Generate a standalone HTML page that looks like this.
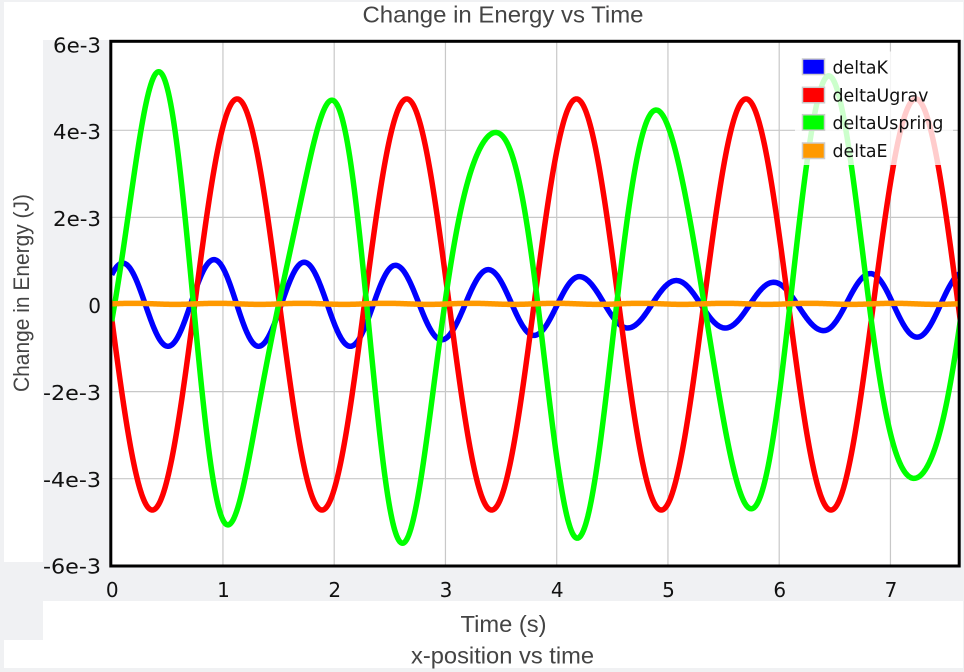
<!DOCTYPE html>
<html>
<head>
<meta charset="utf-8">
<style>
  html,body{margin:0;padding:0;background:#f0f1f3;}
  body{width:964px;height:672px;overflow:hidden;}
  svg{display:block;}
  .tick{font-family:"DejaVu Sans","Liberation Sans",sans-serif;font-size:20px;fill:#111;}
  .ttl{font-family:"Liberation Sans",Arial,sans-serif;fill:#444;}
  .leg{font-family:"DejaVu Sans","Liberation Sans",sans-serif;font-size:17.4px;fill:#111;}
</style>
</head>
<body>
<svg id="chart" width="964" height="672" viewBox="0 0 964 672" xmlns="http://www.w3.org/2000/svg">
  <defs>
    <clipPath id="plotclip"><rect x="110.8" y="41.3" width="848.4" height="524.7"/></clipPath>
  </defs>
  <!-- backgrounds -->
  <rect x="0" y="0" width="964" height="672" fill="#f0f1f3"/>
  <rect x="4" y="2" width="959" height="38" fill="#ffffff"/>
  <rect x="4" y="2" width="39" height="560" fill="#ffffff"/>
  <rect x="43" y="601" width="920" height="67" fill="#ffffff"/>
  <rect x="4" y="640" width="39" height="28" fill="#ffffff"/>

  <!-- titles -->
  <text class="ttl" x="503" y="22.7" font-size="23.5" text-anchor="middle" textLength="281" lengthAdjust="spacingAndGlyphs">Change in Energy vs Time</text>
  <text class="ttl" x="503.5" y="632" font-size="23.5" text-anchor="middle" textLength="86" lengthAdjust="spacingAndGlyphs">Time (s)</text>
  <text class="ttl" x="502.5" y="663.3" font-size="23.5" text-anchor="middle" textLength="183" lengthAdjust="spacingAndGlyphs">x-position vs time</text>
  <text class="ttl" transform="translate(29,293) rotate(-90)" x="0" y="0" font-size="22" text-anchor="middle" textLength="198" lengthAdjust="spacingAndGlyphs">Change in Energy (J)</text>

  <!-- plot area -->
  <rect x="110.8" y="41.3" width="848.4" height="524.7" fill="#ffffff"/>
  <g id="grid" stroke="#c8c8c8" stroke-width="1.2"></g>
  <g id="series" clip-path="url(#plotclip)" fill="none" stroke-width="5.5" stroke-linejoin="round" stroke-linecap="butt"></g>

  <!-- legend -->
  <rect x="795" y="51.5" width="158" height="113.5" fill="#ffffff" fill-opacity="0.8"/>
  <rect x="802.5" y="59" width="22" height="15.5" fill="#0000ff" stroke="#cccccc" stroke-width="1.5"/>
  <rect x="802.5" y="87.3" width="22" height="15.5" fill="#ff0000" stroke="#cccccc" stroke-width="1.5"/>
  <rect x="802.5" y="114.7" width="22" height="15.5" fill="#00ff00" stroke="#cccccc" stroke-width="1.5"/>
  <rect x="802.5" y="143" width="22" height="15.5" fill="#ff9900" stroke="#cccccc" stroke-width="1.5"/>
  <text class="leg" x="832.5" y="73.3">deltaK</text>
  <text class="leg" x="832.5" y="101.5">deltaUgrav</text>
  <text class="leg" x="832.5" y="129">deltaUspring</text>
  <text class="leg" x="832.5" y="157">deltaE</text>

  <!-- border -->
  <rect x="110.8" y="41.3" width="848.4" height="524.7" fill="none" stroke="#000" stroke-width="3"/>

  <!-- y tick labels -->
  <text class="tick" x="101" y="52.3" text-anchor="end" textLength="48" lengthAdjust="spacingAndGlyphs">6e-3</text>
  <text class="tick" x="101" y="138.8" text-anchor="end" textLength="48" lengthAdjust="spacingAndGlyphs">4e-3</text>
  <text class="tick" x="101" y="225.9" text-anchor="end" textLength="48" lengthAdjust="spacingAndGlyphs">2e-3</text>
  <text class="tick" x="101" y="312.8" text-anchor="end">0</text>
  <text class="tick" x="101" y="400.1" text-anchor="end" textLength="58" lengthAdjust="spacingAndGlyphs">-2e-3</text>
  <text class="tick" x="101" y="487.2" text-anchor="end" textLength="58" lengthAdjust="spacingAndGlyphs">-4e-3</text>
  <text class="tick" x="101" y="573.5" text-anchor="end" textLength="58" lengthAdjust="spacingAndGlyphs">-6e-3</text>

  <!-- x tick labels -->
  <text class="tick" x="112.3" y="596.8" text-anchor="middle">0</text>
  <text class="tick" x="223.5" y="596.8" text-anchor="middle">1</text>
  <text class="tick" x="334.7" y="596.8" text-anchor="middle">2</text>
  <text class="tick" x="446" y="596.8" text-anchor="middle">3</text>
  <text class="tick" x="557.2" y="596.8" text-anchor="middle">4</text>
  <text class="tick" x="668.5" y="596.8" text-anchor="middle">5</text>
  <text class="tick" x="779.7" y="596.8" text-anchor="middle">6</text>
  <text class="tick" x="891" y="596.8" text-anchor="middle">7</text>
</svg>
<script>
(function(){
  var NS="http://www.w3.org/2000/svg";
  function X(t){return 111.7+111.25*t;}
  function Y(v){return 304.5-43.55*v;}
  var grid=document.getElementById("grid");
  var i;
  for(i=1;i<=7;i++){
    var l=document.createElementNS(NS,"line");
    l.setAttribute("x1",X(i));l.setAttribute("x2",X(i));
    l.setAttribute("y1",41.3);l.setAttribute("y2",566);
    grid.appendChild(l);
  }
  [-4,-2,0,2,4].forEach(function(v){
    var l=document.createElementNS(NS,"line");
    l.setAttribute("x1",110.8);l.setAttribute("x2",959.2);
    l.setAttribute("y1",Y(v));l.setAttribute("y2",Y(v));
    grid.appendChild(l);
  });

  var ext=[[-0.31,-0.96],[0.1,0.95],[0.506,-0.96],[0.92,1.03],[1.32,-0.96],[1.73,0.97],
    [2.145,-0.96],[2.55,0.9],[2.966,-0.81],[3.385,0.80],[3.796,-0.71],[4.203,0.64],
    [4.638,-0.54],[5.075,0.55],[5.515,-0.54],[5.95,0.51],[6.40,-0.60],[6.82,0.71],
    [7.24,-0.75],[7.66,0.74],[8.1,-0.7]];
  function blue(t){
    for(var k=0;k<ext.length-1;k++){
      if(t>=ext[k][0]&&t<=ext[k+1][0]){
        var f=(t-ext[k][0])/(ext[k+1][0]-ext[k][0]);
        return ext[k][1]+(ext[k+1][1]-ext[k][1])*(1-Math.cos(Math.PI*f))/2;
      }
    }
    return 0;
  }
  function red(t){return -4.72*Math.cos(2*Math.PI*(t-0.365)/1.525);}
  function en(t){return 0.015+0.012*Math.sin(2*Math.PI*t/0.76);}
  function green(t){return -(red(t)+blue(t)+en(t));}

  var fns=[[blue,"#0000ff"],[red,"#ff0000"],[green,"#00ff00"],[en,"#ff9900"]];
  var g=document.getElementById("series");
  fns.forEach(function(p){
    var d="";
    for(var s=0;s<=764;s++){
      var tt=s*0.01;
      d+=(s===0?"M":"L")+X(tt).toFixed(2)+","+Y(p[0](tt)).toFixed(2);
    }
    var path=document.createElementNS(NS,"path");
    path.setAttribute("d",d);
    path.setAttribute("stroke",p[1]);
    g.appendChild(path);
  });
})();
</script>
</body>
</html>
